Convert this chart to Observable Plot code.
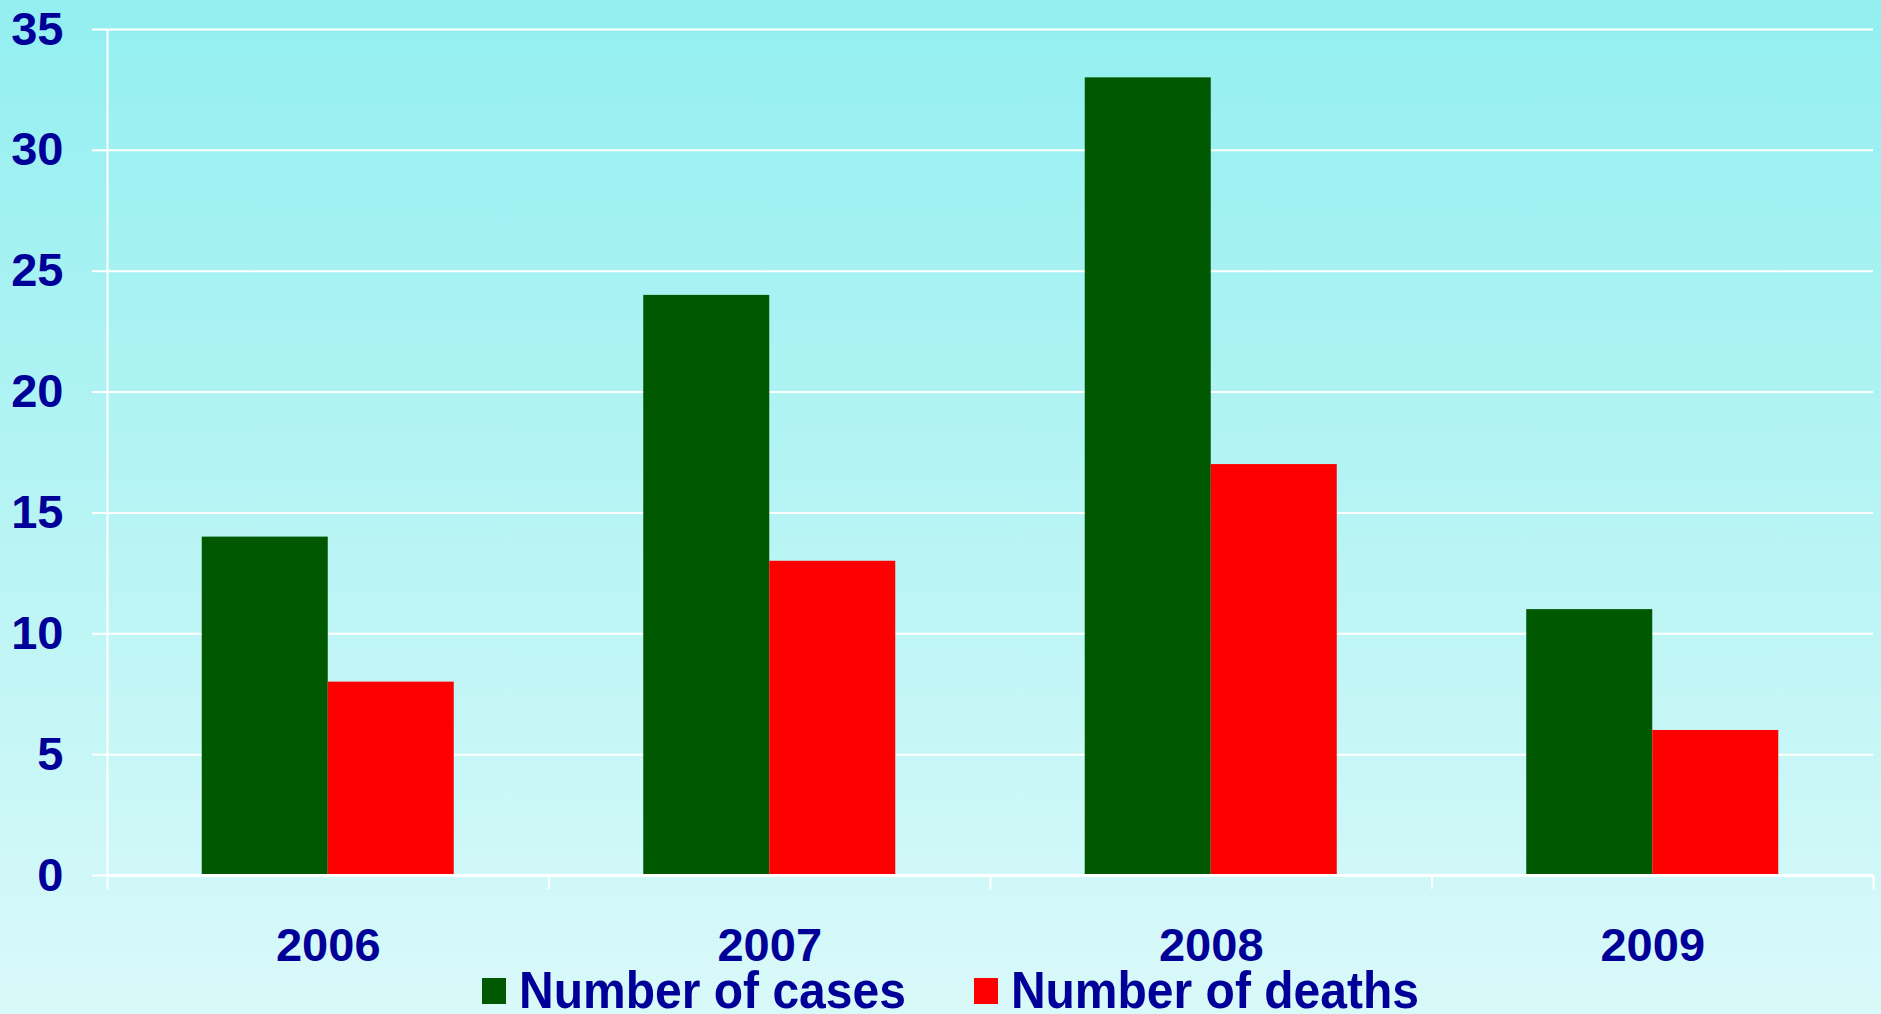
<!DOCTYPE html>
<html>
<head>
<meta charset="utf-8">
<script src="https://cdn.jsdelivr.net/npm/d3@7"></script>
<script src="https://cdn.jsdelivr.net/npm/@observablehq/plot@0.6"></script>
<style>
  html, body { margin: 0; padding: 0; }
  body {
    width: 1881px; height: 1014px; overflow: hidden; position: relative;
    background: linear-gradient(to bottom, #93EFF0 0%, #DAF9F9 100%);
    font-family: "Liberation Sans", Arial, sans-serif;
  }
  #chart { position: absolute; left: 0; top: 0; }
  #chart svg { display: block; background: transparent; }
  #legend {
    position: absolute; left: 0; top: 970px; width: 1881px;
    display: flex; justify-content: center; align-items: center;
    padding-left: 20px; box-sizing: border-box;
    font-weight: bold; font-size: 48px; color: #000099; line-height: 42px;
  }
  .item { display: flex; align-items: center; margin: 0 34px; }
  .item span { display: inline-block; transform: scaleY(1.09); }
  .sw { width: 24px; height: 26px; margin-right: 13px; }
</style>
</head>
<body>
<div id="chart"></div>
<div id="legend"></div>
<script>
const years = ["2006", "2007", "2008", "2009"];
const cases = [14, 24, 33, 11];
const deaths = [8, 13, 17, 6];
const seriesNames = ["Number of cases", "Number of deaths"];
const seriesColors = ["#005800", "#FF0000"];
const yTicks = [0, 5, 10, 15, 20, 25, 30, 35];

const W = 1881, H = 985;
const barW = 0.2854; // fraction of a year band per bar
const rows = [];
years.forEach((y, i) => {
  rows.push({year: y, i, series: seriesNames[0], value: cases[i], x1: i + 0.5 - barW, x2: i + 0.5});
  rows.push({year: y, i, series: seriesNames[1], value: deaths[i], x1: i + 0.5, x2: i + 0.5 + barW});
});
const textColor = "#000099";

const chart = Plot.plot({
  width: W,
  height: H,
  marginLeft: 107,
  marginRight: 8,
  marginTop: 29,
  marginBottom: 110,
  style: {background: "transparent", fontFamily: "Liberation Sans, Arial, sans-serif"},
  x: {domain: [0, years.length]},
  y: {domain: [0, 35]},
  color: {domain: seriesNames, range: seriesColors},
  marks: [
    Plot.gridY(yTicks, {stroke: "white", strokeOpacity: 1, strokeWidth: 2}),
    Plot.ruleX([0], {y1: 0, y2: 35, stroke: "white", strokeWidth: 2}),
    Plot.rectY(rows, {x1: "x1", x2: "x2", y: "value", fill: "series"}),
    Plot.ruleY([0], {stroke: "white", strokeWidth: 3}),
    Plot.axisY(yTicks, {
      tickSize: 15, tickPadding: 29, stroke: "white", strokeWidth: 2,
      fill: textColor, fontSize: 47, fontWeight: "bold", label: null
    }),
    Plot.axisX(d3.range(0, years.length + 1), {
      tickSize: 14, stroke: "white", strokeWidth: 2, tickFormat: () => "", label: null
    }),
    Plot.text(years, {
      x: (d, i) => i + 0.5, y: 0, dy: 70, text: d => d,
      fill: textColor, fontSize: 47, fontWeight: "bold"
    })
  ]
});
document.getElementById("chart").appendChild(chart);

const legend = document.getElementById("legend");
seriesNames.forEach((n, k) => {
  const item = document.createElement("div");
  item.className = "item";
  const sw = document.createElement("div");
  sw.className = "sw";
  sw.style.background = seriesColors[k];
  const t = document.createElement("span");
  t.textContent = n;
  item.appendChild(sw);
  item.appendChild(t);
  legend.appendChild(item);
});
</script>
</body>
</html>
